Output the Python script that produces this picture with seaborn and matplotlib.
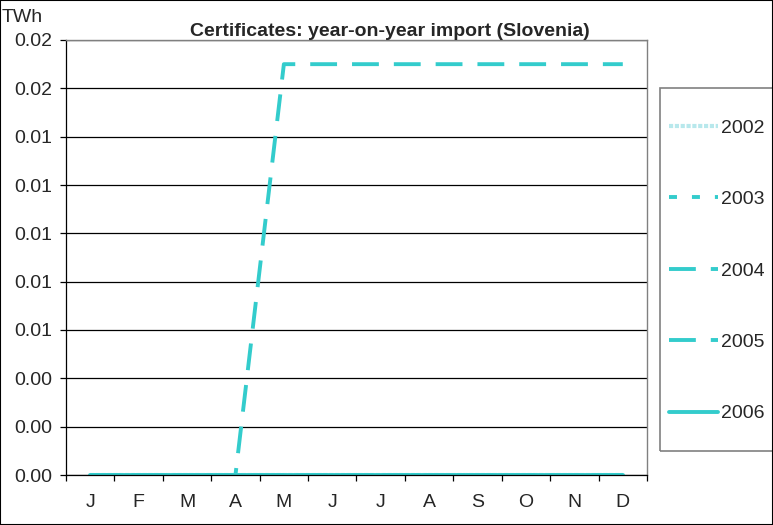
import pandas as pd
import seaborn as sns
import matplotlib.pyplot as plt
from matplotlib.patches import Rectangle
from matplotlib.lines import Line2D

# Data (TWh)
months = ['J', 'F', 'M', 'A', 'M', 'J', 'J', 'A', 'S', 'O', 'N', 'D']
y2002 = [0, 0, 0, 0, 0, 0, 0, 0, 0, 0, 0, 0]
y2003 = [0, 0, 0, 0, 0, 0, 0, 0, 0, 0, 0, 0]
y2004 = [0, 0, 0, 0, 0, 0, 0, 0, 0, 0, 0, 0]
y2005 = [0, 0, 0, 0, 0.017, 0.017, 0.017, 0.017, 0.017, 0.017, 0.017, 0.017]
y2006 = [0, 0, 0, 0, 0, 0, 0, 0, 0, 0, 0, 0]
years = ['2002', '2003', '2004', '2005', '2006']
values = [y2002, y2003, y2004, y2005, y2006]

sns.set_style('white')
plt.rcParams['font.family'] = ['Liberation Sans', 'DejaVu Sans']

FS = 14
cyan = '#33CCCC'
styles = {
    '2002': dict(color='#B8E8EC', lw=3.0, ls=(0, (1, 0.4))),
    '2003': dict(color=cyan, lw=2.8, ls=(0, (2.05, 3.85))),
    '2004': dict(color=cyan, lw=2.8, ls=(0, (6.9, 3.85))),
    '2005': dict(color=cyan, lw=2.8, ls=(0, (6.9, 3.85))),
    '2006': dict(color=cyan, lw=2.8, ls='-'),
}

fig = plt.figure(figsize=(7.73, 5.25), dpi=100)
ax = fig.add_axes([66 / 773, 50 / 525, 581 / 773, 435 / 525])

x = list(range(len(months)))
for yr, vals in zip(years, values):
    df = pd.DataFrame({'x': x, 'v': vals})
    st = styles[yr]
    sns.lineplot(data=df, x='x', y='v', ax=ax, color=st['color'],
                 linewidth=st['lw'], linestyle=st['ls'], label=yr, legend=False)

ax.set_xlim(-0.5, 11.5)
ax.set_ylim(0, 0.018)
yt = [i * 0.002 for i in range(10)]
ax.set_yticks(yt)
ax.set_yticklabels([f'{v:.2f}' for v in yt])
ax.yaxis.grid(True, color='black', linewidth=0.9)
ax.xaxis.grid(False)
ax.set_axisbelow(True)

ax.set_xticks([i - 0.5 for i in range(13)])
ax.set_xticklabels([])
ax.set_xticks(x, minor=True)
ax.set_xticklabels(months, minor=True)
ax.tick_params(axis='x', which='major', length=4, width=0.9, color='black', direction='out', bottom=True)
ax.tick_params(axis='x', which='minor', length=0, pad=14, labelsize=FS)
ax.tick_params(axis='y', length=4, width=0.9, color='black', direction='out', left=True, pad=6, labelsize=FS)
ax.set_xlabel('')
ax.set_ylabel('')

for s in ['left', 'bottom']:
    ax.spines[s].set_color('black')
    ax.spines[s].set_linewidth(0.9)
for s in ['top', 'right']:
    ax.spines[s].set_color('#808080')
    ax.spines[s].set_linewidth(1.0)

fig.text(390 / 773, 1 - 31 / 525, 'Certificates: year-on-year import (Slovenia)',
         ha='center', va='center', fontsize=FS, fontweight='bold')
fig.text(2 / 773, 1 - 17 / 525, 'TWh', ha='left', va='center', fontsize=FS)

# legend box and entries
fig.patches.append(Rectangle((660 / 773, 1 - 451 / 525), 130 / 773, 363 / 525,
                             transform=fig.transFigure, fill=False,
                             edgecolor='#808080', linewidth=1.2))
handles = [Line2D([0], [0], color=styles[y]['color'], lw=styles[y]['lw'],
                  ls=styles[y]['ls']) for y in years]
fig.legend(handles, years, loc='upper left', bbox_to_anchor=(669 / 773, 1 - 119 / 525),
           frameon=False, fontsize=FS, handlelength=2.5, handletextpad=0.2,
           labelspacing=2.77, borderpad=0, borderaxespad=0)

# outer frame
fig.patches.append(Rectangle((0, 0), 1, 1, transform=fig.transFigure, fill=False,
                             edgecolor='black', linewidth=1.5))

fig.savefig('out.png', dpi=100)
plt.close()
